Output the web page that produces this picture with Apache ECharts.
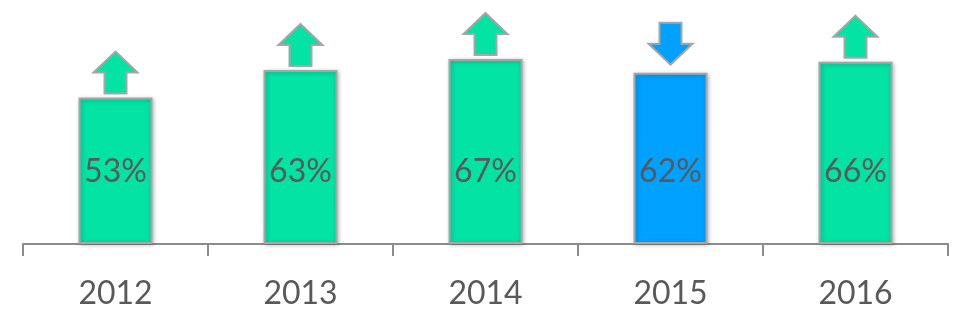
<!DOCTYPE html>
<html>
<head>
<meta charset="utf-8">
<script src="https://cdn.jsdelivr.net/npm/echarts@6/dist/echarts.min.js"></script>
<style>
html,body{margin:0;padding:0;background:#fff;}
#chart{width:970px;height:328px;}
</style>
</head>
<body>
<div id="chart"></div>
<script>
const years = ['2012', '2013', '2014', '2015', '2016'];
const values = [53, 63, 67, 62, 66];
const trend = ['up', 'up', 'up', 'down', 'up'];

const GREEN = '#02E3A4';
const BLUE = '#00A1FF';
const BORDER = '#A6A6A6';

const chart = echarts.init(document.getElementById('chart'));
chart.setOption({
  animation: false,
  grid: { left: 23, right: 22, top: 23, bottom: 84 },
  xAxis: {
    type: 'category',
    data: years,
    boundaryGap: true,
    axisLine: { show: true, lineStyle: { color: '#8C8C8C', width: 2 } },
    axisTick: { show: true, alignWithLabel: false, interval: 0, length: 12, lineStyle: { color: '#8C8C8C', width: 2 } },
    axisLabel: { color: '#595959', fontSize: 32, fontFamily: 'Lato', margin: 34 }
  },
  yAxis: { type: 'value', min: 0, max: 80, show: false },
  series: [
    {
      type: 'bar',
      barWidth: '40%',
      data: values.map((v, i) => ({
        value: v,
        itemStyle: { color: trend[i] === 'down' ? BLUE : GREEN }
      })),
      itemStyle: {
        borderColor: BORDER, borderWidth: 2,
        shadowBlur: 4, shadowColor: 'rgba(0,0,0,0.25)', shadowOffsetX: 1, shadowOffsetY: 1
      },
      label: {
        show: true, position: 'insideBottom', distance: 56,
        formatter: '{c}%', color: '#595959', fontSize: 32, fontFamily: 'Lato'
      }
    },
    {
      type: 'custom',
      data: values.map((v, i) => [i, v]),
      z: 3,
      renderItem: function (params, api) {
        const p = api.coord([api.value(0), api.value(1)]);
        const x = p[0], top = p[1];
        const up = trend[params.dataIndex] === 'up';
        const H = 42, headH = 21, HW = 22, SW = 11;
        let pts;
        if (up) {
          const bottom = top - 4;
          const tip = bottom - H;
          pts = [[x, tip], [x + HW, tip + headH], [x + SW, tip + headH], [x + SW, bottom],
                 [x - SW, bottom], [x - SW, tip + headH], [x - HW, tip + headH]];
        } else {
          const tip = top - 8;
          const start = tip - H;
          pts = [[x, tip], [x + HW, tip - headH], [x + SW, tip - headH], [x + SW, start],
                 [x - SW, start], [x - SW, tip - headH], [x - HW, tip - headH]];
        }
        return {
          type: 'polygon',
          shape: { points: pts },
          style: { fill: up ? GREEN : BLUE, stroke: BORDER, lineWidth: 2 }
        };
      }
    }
  ]
});
</script>
</body>
</html>
